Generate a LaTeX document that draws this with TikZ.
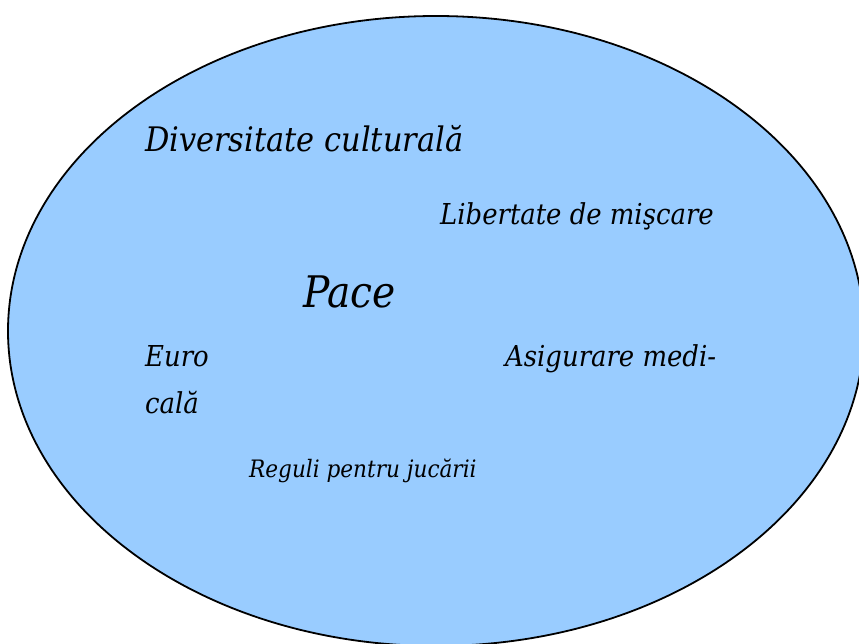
\documentclass[tikz,border=0pt]{standalone}
\usepackage{fontspec}
\setmainfont{DejaVu Serif Condensed}
\usepackage{tikz}
\definecolor{eublue}{HTML}{99CCFF}
\tikzset{
  lbl/.style={anchor=base west, inner sep=0pt, font=\itshape},
}
\begin{document}
\begin{tikzpicture}[x=1pt,y=-1pt]
\useasboundingbox (0,0) rectangle (859,644);
\draw[fill=eublue, line width=1.8pt] (436,331) ellipse [x radius=428, y radius=315];
\node[lbl, font=\itshape\fontsize{33.8}{40}\selectfont] (div) at (145,152) {Diversitate culturală};
\node[lbl, font=\itshape\fontsize{28.8}{34}\selectfont] (lib) at (440,225) {Libertate de mişcare};
\node[lbl, font=\itshape\fontsize{43.5}{52}\selectfont] (pace) at (303,308) {Pace};
\node[lbl, font=\itshape\fontsize{28.8}{34}\selectfont] (euro) at (145,366) {Euro};
\node[lbl, font=\itshape\fontsize{28.8}{34}\selectfont] (asig) at (505,366) {Asigurare medi-};
\node[lbl, font=\itshape\fontsize{28.8}{34}\selectfont] (cala) at (145,413) {cală};
\node[lbl, font=\itshape\fontsize{24}{29}\selectfont] (reg) at (249,477) {Reguli pentru jucării};
\end{tikzpicture}
\end{document}
